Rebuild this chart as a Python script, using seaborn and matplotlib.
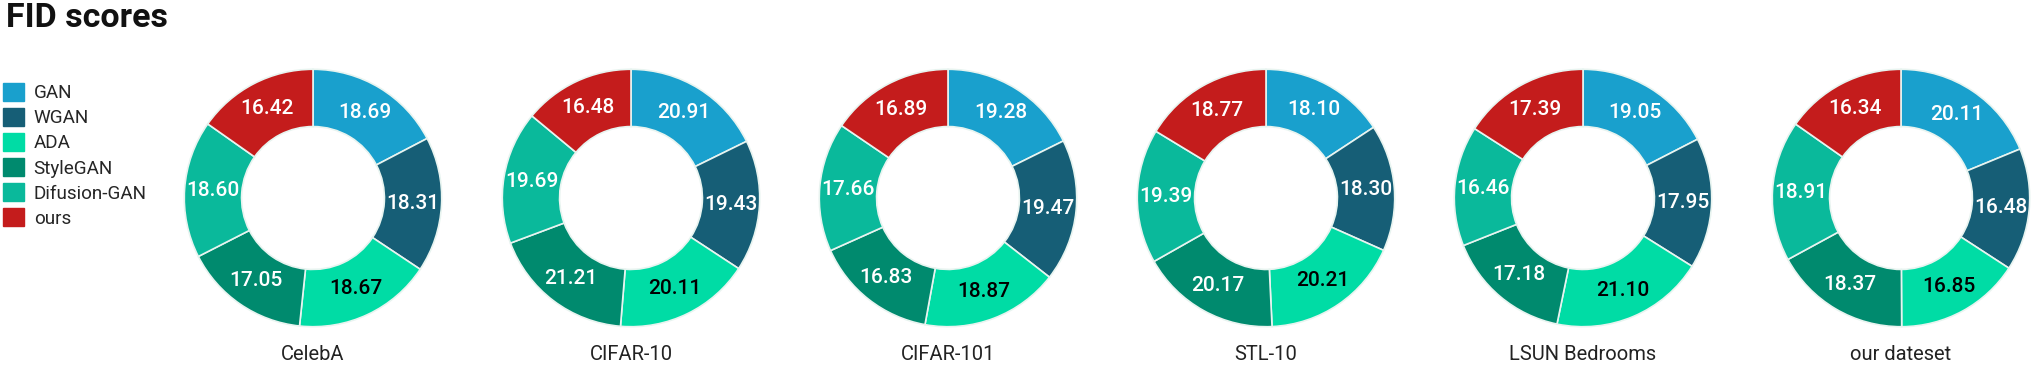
import matplotlib
matplotlib.use("Agg")
import matplotlib.pyplot as plt
import seaborn as sns
from matplotlib.patches import Patch

sns.set_style("white")
plt.rcParams['font.family'] = ['Roboto', 'DejaVu Sans']

methods = ["GAN", "WGAN", "ADA", "StyleGAN", "Difusion-GAN", "ours"]
datasets = ["CelebA", "CIFAR-10", "CIFAR-101", "STL-10", "LSUN Bedrooms", "our dateset"]
celeba = [18.69, 18.31, 18.67, 17.05, 18.60, 16.42]
cifar10 = [20.91, 19.43, 20.11, 21.21, 19.69, 16.48]
cifar101 = [19.28, 19.47, 18.87, 16.83, 17.66, 16.89]
stl10 = [18.10, 18.30, 20.21, 20.17, 19.39, 18.77]
lsun = [19.05, 17.95, 21.10, 17.18, 16.46, 17.39]
ours_ds = [20.11, 16.48, 16.85, 18.37, 18.91, 16.34]
all_values = [celeba, cifar10, cifar101, stl10, lsun, ours_ds]

colors = ["#19a0cd", "#165e76", "#00dca5", "#008a6e", "#0ab99b", "#c41c1c"]
text_colors = ["white", "white", "black", "white", "white", "white"]
palette = sns.color_palette(colors)

W, H = 2032, 367
fig = plt.figure(figsize=(W / 100, H / 100), dpi=100)

centers_x = [313, 631, 948, 1266, 1583, 1901]
cy = 367 - 198
R = 130
for cx, vals, name in zip(centers_x, all_values, datasets):
    ax = fig.add_axes([(cx - R) / W, (cy - R) / H, 2 * R / W, 2 * R / H])
    wedges, texts = ax.pie(vals, colors=palette, startangle=90, counterclock=False,
                           radius=1.0, labels=[f"{v:.2f}" for v in vals],
                           labeldistance=0.78,
                           wedgeprops=dict(width=0.445, edgecolor="#e8f4f0", linewidth=1.2),
                           textprops=dict(fontsize=15, fontweight="medium"))
    for t, c in zip(texts, text_colors):
        t.set_color(c)
        t.set_ha("center")
        t.set_va("center")
    ax.set_xlim(-1.01, 1.01)
    ax.set_ylim(-1.01, 1.01)
    ax.set_aspect("equal")
    ax.axis("off")
    fig.text(cx / W, 1 - 355 / H, name, ha="center", va="center", fontsize=14.5, color="#222222")

fig.text(6 / W, 1 - 18 / H, "FID scores", fontsize=24.5, fontweight="bold", ha="left", va="center", color="#111111")

handles = [Patch(facecolor=c, edgecolor=c) for c in colors]
fig.legend(handles, methods, loc="upper left", bbox_to_anchor=(-0.002, 1 - 75 / H),
           frameon=False, fontsize=13.6, handlelength=1.1, handleheight=1.1,
           handletextpad=0.5, labelspacing=0.3, borderaxespad=0)

fig.savefig("out.png", dpi=100)
